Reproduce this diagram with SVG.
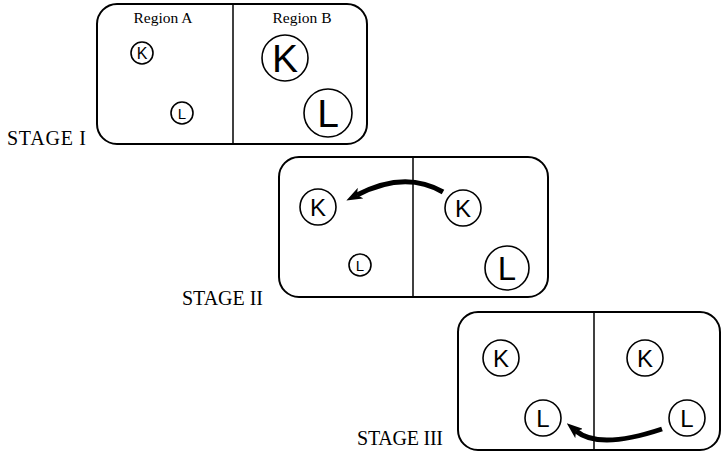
<svg xmlns="http://www.w3.org/2000/svg" width="723" height="454" viewBox="0 0 723 454">
<defs>
<style>
.box{fill:none;stroke:#000;stroke-width:2}
.div{stroke:#000;stroke-width:1.5}
.c{fill:none;stroke:#000;stroke-width:1.6}
.lt{font-family:"Liberation Sans",Arial,sans-serif;text-anchor:middle;fill:#000}
.st{font-family:"Liberation Serif","Times New Roman",serif;font-size:20px;fill:#000}
.rg{font-family:"Liberation Serif","Times New Roman",serif;font-size:15.5px;fill:#000;text-anchor:middle}
.arr{fill:none;stroke:#000;stroke-width:5}
</style>
<marker id="ah" viewBox="0 0 16 12" refX="4" refY="6" markerWidth="16" markerHeight="12" markerUnits="userSpaceOnUse" orient="auto">
<path d="M0,0 L16,6 L0,12 L4,6 z" fill="#000"/>
</marker>
</defs>
<rect width="723" height="454" fill="#fff"/>

<g id="stage1">
<rect class="box" x="97" y="4" width="270" height="140" rx="20"/>
<line class="div" x1="233" y1="4" x2="233" y2="144"/>
<text class="rg" x="163" y="23">Region A</text>
<text class="rg" x="302" y="23">Region B</text>
<text class="st" x="7" y="145" textLength="79" lengthAdjust="spacing">STAGE  I</text>
</g>
<g id="s1-kA"><circle class="c" cx="142" cy="53" r="11"/><text class="lt" x="142" y="59" font-size="16">K</text></g>
<g id="s1-lA"><circle class="c" cx="182" cy="113" r="11"/><text class="lt" x="182" y="118.5" font-size="15">L</text></g>
<g id="s1-kB"><circle class="c" cx="285" cy="58" r="23"/><text class="lt" x="285" y="72" font-size="39">K</text></g>
<g id="s1-lB"><circle class="c" cx="328" cy="113" r="24"/><text class="lt" x="328" y="127" font-size="39">L</text></g>

<g id="stage2">
<rect class="box" x="279" y="157" width="269" height="140" rx="20"/>
<line class="div" x1="413" y1="157" x2="413" y2="297"/>
<text class="st" x="182" y="305" textLength="81" lengthAdjust="spacing">STAGE  II</text>
</g>
<g id="s2-kA"><circle class="c" cx="318" cy="207" r="18"/><text class="lt" x="318" y="215.5" font-size="24">K</text></g>
<g id="s2-lA"><circle class="c" cx="360" cy="265" r="11"/><text class="lt" x="360" y="270.5" font-size="15">L</text></g>
<g id="s2-kB"><circle class="c" cx="463" cy="208" r="18"/><text class="lt" x="463" y="216.5" font-size="24">K</text></g>
<g id="s2-lB"><circle class="c" cx="507" cy="268" r="22"/><text class="lt" x="507" y="280" font-size="33">L</text></g>

<g id="stage3">
<rect class="box" x="458" y="312" width="262" height="138" rx="20"/>
<line class="div" x1="594" y1="312" x2="594" y2="450"/>
<text class="st" x="357" y="445" textLength="86" lengthAdjust="spacing">STAGE  III</text>
</g>
<g id="s3-kA"><circle class="c" cx="501" cy="358" r="18"/><text class="lt" x="501" y="366.5" font-size="24">K</text></g>
<g id="s3-lA"><circle class="c" cx="543" cy="418" r="18"/><text class="lt" x="543" y="426.5" font-size="24">L</text></g>
<g id="s3-kB"><circle class="c" cx="645" cy="358" r="18"/><text class="lt" x="645" y="366.5" font-size="24">K</text></g>
<g id="s3-lB"><circle class="c" cx="687" cy="418" r="18"/><text class="lt" x="687" y="426.5" font-size="24">L</text></g>

<g id="connectors">
<path class="arr" d="M443,192 Q405,170 357,195" marker-end="url(#ah)"/>
<path class="arr" d="M662,429 Q599,450 576,431" marker-end="url(#ah)"/>
</g>
</svg>
